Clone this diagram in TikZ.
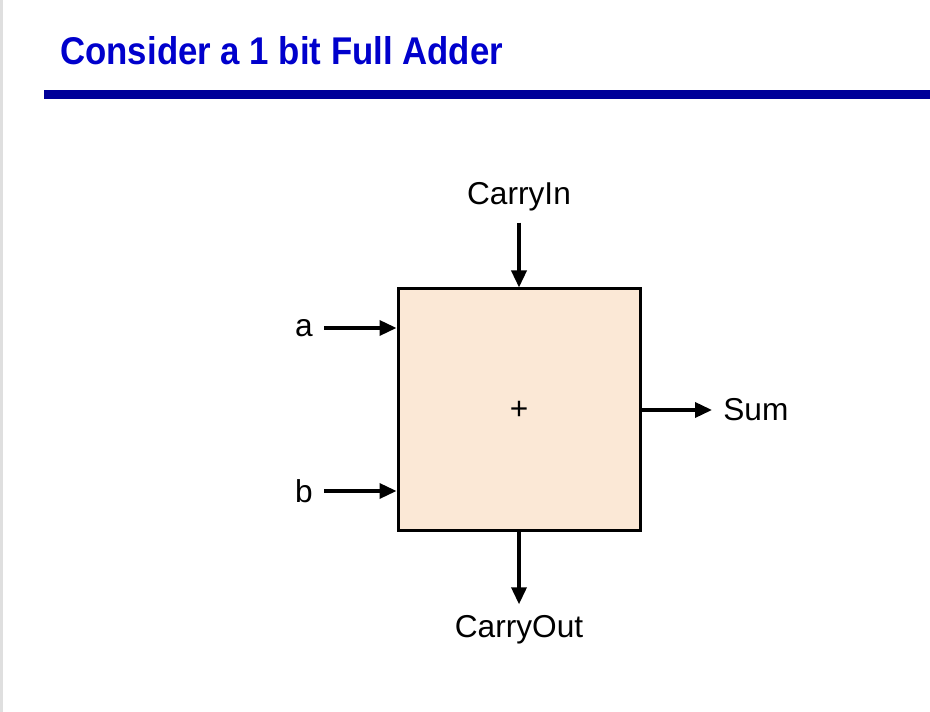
\documentclass[tikz,border=0pt]{standalone}
\usepackage{fontspec}
\setmainfont{Liberation Sans}
\newfontfamily\titlefont[FakeStretch=0.9]{Liberation Sans}
\usetikzlibrary{arrows.meta}
\definecolor{titleblue}{RGB}{0,0,204}
\definecolor{barblue}{RGB}{0,0,153}
\definecolor{adderfill}{RGB}{251,232,214}
\begin{document}
\begin{tikzpicture}
    [signal/.style={line width=0.07cm,-{Triangle[length=0.34cm,width=0.3cm]}},
     port/.style={inner sep=0.22cm,font=\fontsize{18}{20}\selectfont}]
    \useasboundingbox (0, 0) rectangle (18.6, 14.24);
    \draw [gray!25,line width=0.06cm] (0.03, 0) -- (0.03, 14.24);
    % title and rule
    \node (title) at (1.2, 12.94) [anchor=base west,inner sep=0pt,text=titleblue]
      {\titlefont\bfseries\fontsize{22}{26}\selectfont Consider a 1 bit Full Adder};
    \fill [barblue] (0.88, 12.26) rectangle (18.6, 12.44);
    % the adder
    \node (adder) at (10.38, 6.04) [draw,line width=0.06cm,fill=adderfill,
      minimum size=4.84cm,font=\fontsize{18}{20}\selectfont] {+};
    \node (cin) at (10.38, 10.3) [port] {CarryIn};
    \node (cout) at (10.38, 1.64) [port] {CarryOut};
    \node (a) at (6.08, 7.68) [port] {a};
    \node (b) at (6.08, 4.42) [port] {b};
    \node (sum) at (14.24, 6.04) [port,anchor=west] {Sum};
    \draw [signal] (cin) to (adder);
    \draw [signal] (adder) to (cout);
    \draw [signal] (a) to (a -| adder.west);
    \draw [signal] (b) to (b -| adder.west);
    \draw [signal] (adder) to (sum);
  \end{tikzpicture}
\end{document}
